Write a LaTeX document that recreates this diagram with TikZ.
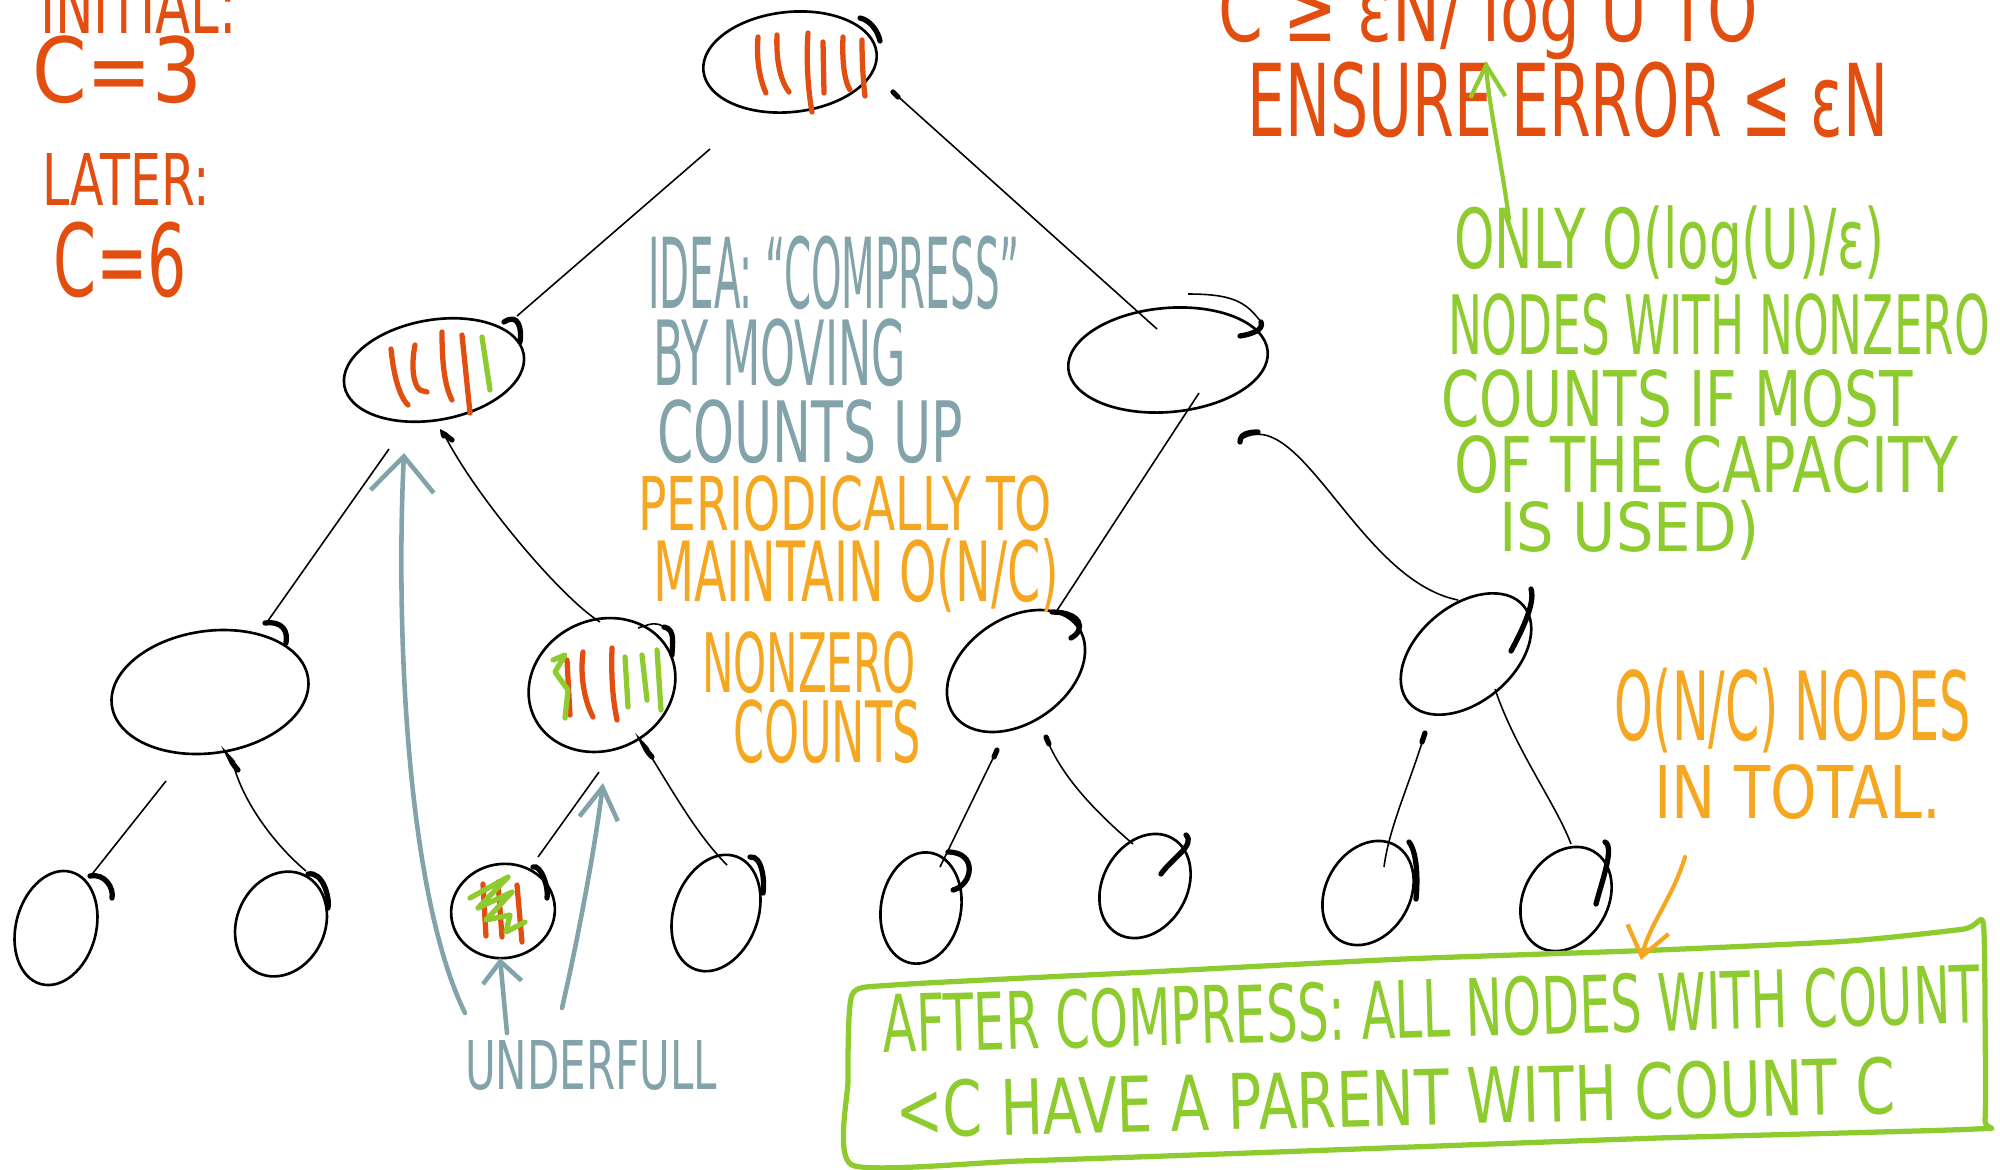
\documentclass[tikz,border=0pt]{standalone}
\usepackage{fontspec}
\setmainfont{DejaVu Sans}
\usepackage{graphicx}
\usetikzlibrary{shapes.geometric,arrows.meta}

% one drawing unit = 0.01cm; handwritten lines are squeezed to a given box
\newdimen\pxu \pxu=0.01cm
\newcommand{\hw}[3]{\resizebox*{#1\pxu}{#2\pxu}{#3}}

\definecolor{ored}{HTML}{E24E10}
\definecolor{hgreen}{HTML}{8DCB2F}
\definecolor{bluegrey}{HTML}{82A3A9}
\definecolor{amber}{HTML}{F5A722}

\begin{document}
\begin{tikzpicture}[x=0.01cm,y=-0.01cm,
  ell/.style={draw=black, line width=0.75pt, ellipse, inner sep=0pt, outer sep=0pt},
  edge/.style={black, line width=0.45pt},
  hookline/.style={black, line width=1.5pt, line cap=round},
  cnt/.style={line width=1.5pt, line cap=round, line join=round},
  txt/.style={inner sep=0pt, outer sep=0pt, anchor=north west},
  greyarrow/.style={bluegrey, line width=1.3pt, line cap=round},
  boxline/.style={hgreen, line width=1.5pt, line join=round}
]
\useasboundingbox (0,0) rectangle (2000,1169);
\clip (0,0) rectangle (2000,1169);

% ---------- tree nodes ----------
\node[ell, minimum width=1.74cm, minimum height=1.00cm, rotate=6]  (root) at (790,62) {};
\node[ell, minimum width=1.82cm, minimum height=1.00cm, rotate=10] (l1l) at (434,370) {};
\node[ell, minimum width=2.00cm, minimum height=1.04cm, rotate=5]  (l1r) at (1168,360) {};
\node[ell, minimum width=1.98cm, minimum height=1.22cm, rotate=8]  (na) at (210,692) {};
\node[ell, minimum width=1.50cm, minimum height=1.30cm, rotate=25] (nb) at (602,685) {};
\node[ell, minimum width=1.52cm, minimum height=1.04cm, rotate=35] (nc) at (1016,671) {};
\node[ell, minimum width=1.50cm, minimum height=0.96cm, rotate=40] (nd) at (1466,654) {};
\node[ell, minimum width=0.80cm, minimum height=1.16cm, rotate=-15] (la) at (56,928) {};
\node[ell, minimum width=0.88cm, minimum height=1.08cm, rotate=-25] (lb) at (281,924) {};
\node[ell, minimum width=1.04cm, minimum height=0.94cm, rotate=10]  (lc) at (503,911) {};
\node[ell, minimum width=0.84cm, minimum height=1.20cm, rotate=-20] (ld) at (716,913) {};
\node[ell, minimum width=0.80cm, minimum height=1.12cm, rotate=-10] (le) at (921,908) {};
\node[ell, minimum width=0.84cm, minimum height=1.10cm, rotate=-30] (lf) at (1145,886) {};
\node[ell, minimum width=0.84cm, minimum height=1.10cm, rotate=-30] (lg) at (1368,893) {};
\node[ell, minimum width=0.84cm, minimum height=1.10cm, rotate=-30] (lh) at (1566,899) {};

% ---------- edges ----------
\draw[edge] ([shift={(-80,87)}]root.center) -- ([shift={(83,-54)}]l1l.center);
\draw[edge] ([shift={(103,30)}]root.center) -- ([shift={(-11,-31)}]l1r.center);
\draw[edge] ([shift={(-45,79)}]l1l.center) -- ([shift={(55,-67)}]na.center);
\draw[edge] ([shift={(10,64)}]l1l.center) .. controls +(30,60) and +(-40,-25) .. ([shift={(-2,-63)}]nb.center);
\draw[edge] ([shift={(31,33)}]l1r.center) -- ([shift={(40,-59)}]nc.center);
\draw[edge] ([shift={(72,80)}]l1r.center) .. controls +(60,-40) and +(-100,-20) .. ([shift={(-8,-54)}]nd.center);
\draw[edge] ([shift={(-44,89)}]na.center) -- ([shift={(33,-50)}]la.center);
\draw[edge] ([shift={(23,71)}]na.center) .. controls +(10,40) and +(-30,-25) .. ([shift={(25,-53)}]lb.center);
\draw[edge] ([shift={(-3,87)}]nb.center) -- ([shift={(35,-54)}]lc.center);
\draw[edge] ([shift={(45,65)}]nb.center) .. controls +(25,40) and +(-30,-30) .. ([shift={(11,-48)}]ld.center);
\draw[edge] ([shift={(-19,79)}]nc.center) -- ([shift={(19,-41)}]le.center);
\draw[edge] ([shift={(30,66)}]nc.center) .. controls +(15,40) and +(-35,-30) .. ([shift={(-12,-42)}]lf.center);
\draw[edge] ([shift={(-41,79)}]nd.center) .. controls +(-15,50) and +(5,-40) .. ([shift={(16,-26)}]lg.center);
\draw[edge] ([shift={(29,35)}]nd.center) .. controls +(20,60) and +(-15,-40) .. ([shift={(5,-55)}]lh.center);

% ---------- pen hooks where the strokes begin and end ----------
\draw[hookline] ([shift={(70,-44)}]root.center) .. controls +(10,2) and +(-2,-10) .. ([shift={(90,-21)}]root.center);
\draw[hookline] ([shift={(103,30)}]root.center) -- ([shift={(108,35)}]root.center);
\draw[hookline] ([shift={(70,-48)}]l1l.center) .. controls +(15,-10) and +(2,-12) .. ([shift={(86,-28)}]l1l.center);
\draw[edge] ([shift={(20,-66)}]l1r.center) .. controls +(45,0) and +(-15,-20) .. ([shift={(93,-38)}]l1r.center);
\draw[hookline] ([shift={(93,-38)}]l1r.center) .. controls +(3,8) and +(12,-2) .. ([shift={(72,-24)}]l1r.center);
\draw[hookline] ([shift={(72,82)}]l1r.center) .. controls +(0,-8) and +(-10,0) .. ([shift={(90,72)}]l1r.center);
\draw[hookline] ([shift={(55,-69)}]na.center) .. controls +(18,-2) and +(2,-12) .. ([shift={(76,-49)}]na.center);
\draw[hookline] ([shift={(10,66)}]l1l.center) .. controls +(-3,-6) and +(-6,-4) .. ([shift={(18,70)}]l1l.center);
\draw[edge] ([shift={(36,-57)}]nb.center) .. controls +(15,-5) and +(-8,-5) .. ([shift={(62,-58)}]nb.center);
\draw[hookline] ([shift={(62,-58)}]nb.center) .. controls +(12,2) and +(0,-10) .. ([shift={(70,-30)}]nb.center);
\draw[hookline] ([shift={(36,-59)}]nc.center) .. controls +(30,0) and +(15,-8) .. ([shift={(55,-33)}]nc.center);
\draw[hookline] ([shift={(65,-65)}]nd.center) .. controls +(5,15) and +(8,-15) .. ([shift={(45,-3)}]nd.center);
\draw[hookline] ([shift={(34,-52)}]la.center) .. controls +(15,-3) and +(2,-10) .. ([shift={(56,-30)}]la.center);
\draw[hookline] ([shift={(23,71)}]na.center) .. controls +(-4,-6) and +(-5,-5) .. ([shift={(28,78)}]na.center);
\draw[hookline] ([shift={(27,-50)}]lb.center) .. controls +(15,-3) and +(2,-10) .. ([shift={(47,-16)}]lb.center);
\draw[hookline] ([shift={(30,-44)}]lc.center) .. controls +(8,-3) and +(2,-10) .. ([shift={(44,-13)}]lc.center);
\draw[hookline] ([shift={(45,65)}]nb.center) .. controls +(-4,-6) and +(-5,-5) .. ([shift={(50,72)}]nb.center);
\draw[hookline] ([shift={(34,-56)}]ld.center) .. controls +(12,-2) and +(2,-12) .. ([shift={(47,-20)}]ld.center);
\draw[hookline] ([shift={(27,-56)}]le.center) .. controls +(30,0) and +(20,-5) .. ([shift={(32,-18)}]le.center);
\draw[hookline] ([shift={(41,-51)}]lf.center) .. controls +(10,10) and +(10,-15) .. ([shift={(16,-12)}]lf.center);
\draw[hookline] ([shift={(30,66)}]nc.center) -- ([shift={(33,73)}]nc.center);
\draw[hookline] ([shift={(-19,79)}]nc.center) -- ([shift={(-22,86)}]nc.center);
\draw[hookline] ([shift={(41,-51)}]lg.center) .. controls +(8,10) and +(2,-20) .. ([shift={(48,6)}]lg.center);
\draw[hookline] ([shift={(-41,79)}]nd.center) -- ([shift={(-44,88)}]nd.center);
\draw[hookline] ([shift={(39,-57)}]lh.center) .. controls +(10,5) and +(5,-20) .. ([shift={(30,5)}]lh.center);

% ---------- counts inside nodes ----------
\begin{scope}[cnt, ored]
  \draw (758,37) .. controls (756,60) and (760,80) .. (766,93);
  \draw (777,35) .. controls (776,60) and (780,80) .. (789,92);
  \draw (808,33) .. controls (806,60) and (808,90) .. (812,112);
  \draw (823,42) -- (824,93);
  \draw (843,37) .. controls (842,60) and (844,80) .. (850,90);
  \draw (862,40) .. controls (862,60) and (863,80) .. (865,96);
  \draw (391,349) .. controls (393,370) and (398,395) .. (408,405);
  \draw (415,345) .. controls (411,365) and (413,385) .. (420,390) -- (427,392);
  \draw (442,332) .. controls (442,360) and (444,385) .. (452,400);
  \draw (462,335) -- (470,413);
  \draw (567,660) -- (570,715);
  \draw (583,652) .. controls (580,675) and (584,700) .. (593,717);
  \draw (612,648) .. controls (611,680) and (613,700) .. (617,720);
  \draw (483,884) -- (486,936);
  \draw (498,882) -- (502,937);
  \draw (517,885) -- (522,942);
\end{scope}
\begin{scope}[cnt, hgreen]
  \draw (482,337) -- (490,390);
  \draw (553,660) -- (565,655) -- (555,672) -- (568,690) -- (565,718);
  \draw (625,657) -- (628,707);
  \draw (642,655) -- (647,700);
  \draw (657,650) -- (661,710);
  \draw (470,898) -- (508,877) -- (478,908) -- (512,892) -- (486,920) -- (510,915) -- (506,932) -- (525,922);
\end{scope}

% ---------- notes ----------
\begin{scope}[text=ored]
  \node[txt, anchor=south west] (initial) at (40,33) {\hw{197}{58}{INITIAL:}};
  \node[txt] (cthree) at (32,36) {\hw{170}{68}{C=3}};
  \node[txt] (later) at (42,153) {\hw{168}{52}{LATER:}};
  \node[txt] (csix) at (53,222) {\hw{134}{76}{C=6}};
  \node[txt, anchor=south west] (bound) at (1218,60) {\hw{540}{85}{C ≥ εN/ log U TO}};
  \node[txt] (ensure) at (1247,62) {\hw{641}{76}{ENSURE ERROR ≤ εN}};
\end{scope}
\begin{scope}[text=hgreen]
  \node[txt] (only) at (1454,206) {\hw{431}{80}{ONLY O(log(U)/ε)}};
  \node[txt] (withnz) at (1448,294) {\hw{542}{62}{NODES WITH NONZERO}};
  \node[txt] (ifmost) at (1441,370) {\hw{472}{58}{COUNTS IF MOST}};
  \node[txt] (capacity) at (1454,436) {\hw{504}{58}{OF THE CAPACITY}};
  \node[txt] (used) at (1499,500) {\hw{261}{60}{IS USED)}};
  \node[inner sep=0pt, anchor=west, rotate=1.6] (after) at (882,1024) {\hw{1098}{60}{AFTER COMPRESS: ALL NODES WITH COUNT}};
  \node[inner sep=0pt, anchor=west, rotate=1.4] (parent) at (895,1110) {\hw{1000}{58}{<C HAVE A PARENT WITH COUNT C}};
\end{scope}
\begin{scope}[text=bluegrey]
  \node[txt] (idea) at (648,236) {\hw{372}{74}{IDEA: “COMPRESS”}};
  \node[txt] (moving) at (653,319) {\hw{253}{68}{BY MOVING}};
  \node[txt] (countsup) at (657,400) {\hw{306}{64}{COUNTS UP}};
  \node[txt] (underfull) at (465,1040) {\hw{252}{50}{UNDERFULL}};
\end{scope}
\begin{scope}[text=amber]
  \node[txt] (periodic) at (638,476) {\hw{414}{56}{PERIODICALLY TO}};
  \node[txt] (maintain) at (653,538) {\hw{406}{74}{MAINTAIN O(N/C)}};
  \node[txt] (nonzero) at (702,632) {\hw{214}{62}{NONZERO}};
  \node[txt] (countsb) at (733,700) {\hw{188}{64}{COUNTS}};
  \node[txt] (total) at (1614,668) {\hw{357}{85}{O(N/C) NODES}};
  \node[txt] (intotal) at (1654,765) {\hw{287}{55}{IN TOTAL.}};
\end{scope}

% ---------- summary box ----------
\draw[boxline] plot[smooth cycle, tension=0.35] coordinates {
  (852,995) (893,985) (1148,972) (1403,959) (1658,950) (1849,941) (1964,929) (1983,922)
  (1985,1010) (1985,1120) (1975,1129) (1658,1138) (1276,1152) (1020,1161) (852,1165) (848,1080)};
\coordinate (boxarrow) at (1641,960);

% ---------- arrows ----------
\draw[greyarrow, -{Straight Barb[length=10pt,width=18pt]}]
  ([shift={(0,-27)}]underfull.north west) .. controls (405,890) and (396,620) .. ([shift={(-30,83)}]l1l.center);
\draw[greyarrow, -{Straight Barb[length=6pt,width=11pt]}]
  ([shift={(42,-7)}]underfull.north west) -- ([shift={(-3,47)}]lc.center);
\draw[greyarrow, -{Straight Barb[length=9pt,width=11pt]}]
  ([shift={(97,-32)}]underfull.north west) .. controls (580,930) and (596,840) .. ([shift={(1,98)}]nb.center);
\draw[hgreen, line width=1.2pt, line cap=round, -{Straight Barb[length=9pt,width=10pt]}]
  ([shift={(55,13)}]only.north west) .. controls +(-8,-60) and +(2,40) .. ([shift={(239,-1)}]ensure.north west);
\draw[amber, line width=1.2pt, line cap=round, -{Straight Barb[length=8pt,width=12pt]}]
  ([shift={(31,92)}]intotal.north west) .. controls +(-12,40) and +(8,-35) .. (boxarrow);

\end{tikzpicture}
\end{document}
